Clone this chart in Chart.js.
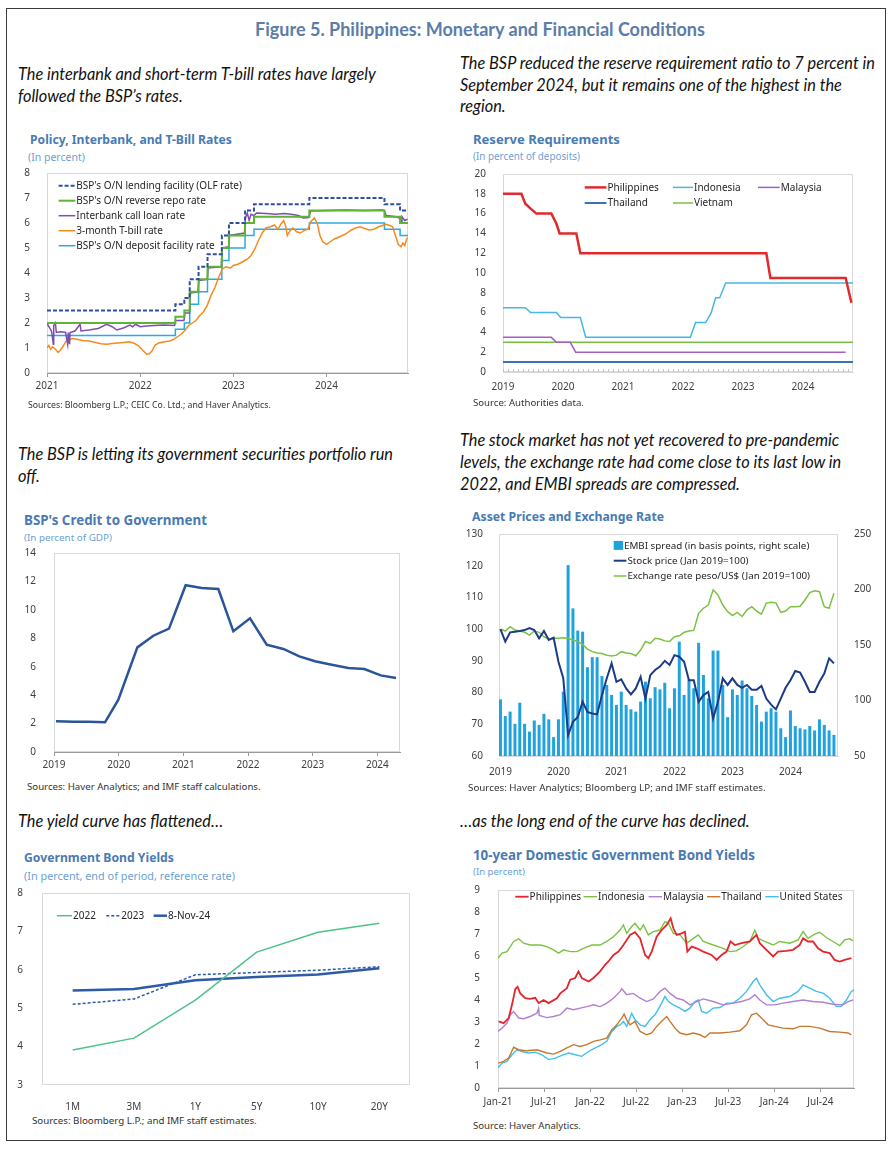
<!DOCTYPE html>
<html>
<head>
<meta charset="utf-8">
<script src="https://cdn.jsdelivr.net/npm/chart.js@4.4.1/dist/chart.umd.min.js"></script>
<style>
  body { margin: 0; width: 896px; height: 1152px; background: #fff; position: relative; overflow: hidden; font-family: "Noto Sans", sans-serif; }
  #box { position: absolute; left: 6px; top: 8px; width: 878px; height: 1131px; border: 1px solid #3a3a3a; }
  canvas { position: absolute; }
  .t { position: absolute; white-space: nowrap; transform: translateY(-50%); line-height: 1; z-index: 2; }
  .fig { font-family: Lato, sans-serif; font-weight: bold; color: #5b7da8; font-size: 18px; transform: translate(-50%, -50%); }
  .cap { font-family: Lato, sans-serif; font-style: italic; color: #111; font-size: 15px; }
  .ct { font-weight: bold; color: #4a7ab2; font-size: 13px; }
  .cs { color: #6d9fd5; font-size: 11px; }
  .src { color: #333; font-size: 9px; }
</style>
</head>
<body>
<div id="box"></div>

<div class="t fig" style="left:480px;top:29px" data-w="450">Figure 5. Philippines: Monetary and Financial Conditions</div>

<div class="t cap" style="left:18px;top:74px">The interbank and short-term T-bill rates have largely</div>
<div class="t cap" style="left:18px;top:95.5px">followed the BSP’s rates.</div>
<div class="t cap" id="capRef" style="left:460px;top:63px" data-w="415">The BSP reduced the reserve requirement ratio to 7 percent in</div>
<div class="t cap" style="left:460px;top:84.5px">September 2024, but it remains one of the highest in the</div>
<div class="t cap" style="left:460px;top:106px">region.</div>
<div class="t cap" style="left:18px;top:454px">The BSP is letting its government securities portfolio run</div>
<div class="t cap" style="left:18px;top:476px">off.</div>
<div class="t cap" style="left:460px;top:440px">The stock market has not yet recovered to pre-pandemic</div>
<div class="t cap" style="left:460px;top:462px">levels, the exchange rate had come close to its last low in</div>
<div class="t cap" style="left:460px;top:484px">2022, and EMBI spreads are compressed.</div>
<div class="t cap" style="left:18px;top:821px">The yield curve has flattened…</div>
<div class="t cap" style="left:460px;top:821px">…as the long end of the curve has declined.</div>

<div class="t ct" style="left:30px;top:140px" data-w="202">Policy, Interbank, and T-Bill Rates</div>
<div class="t cs" style="left:28px;top:157px" data-w="57">(In percent)</div>
<div class="t src" style="left:28px;top:405px" data-w="243">Sources: Bloomberg L.P.; CEIC Co. Ltd.; and Haver Analytics.</div>

<div class="t ct" style="left:473px;top:140px" data-w="147">Reserve Requirements</div>
<div class="t cs" style="left:473px;top:156.5px" data-w="107">(In percent of deposits)</div>
<div class="t src" style="left:473px;top:403px" data-w="111">Source: Authorities data.</div>

<div class="t ct" style="left:24px;top:521px" data-w="183">BSP's Credit to Government</div>
<div class="t cs" style="left:24px;top:538px" data-w="88">(In percent of GDP)</div>
<div class="t src" style="left:27px;top:787px" data-w="234">Sources: Haver Analytics; and IMF staff calculations.</div>

<div class="t ct" style="left:472px;top:517px" data-w="192">Asset Prices and Exchange Rate</div>
<div class="t src" style="left:468px;top:788px" data-w="298">Sources: Haver Analytics; Bloomberg LP; and IMF staff estimates.</div>

<div class="t ct" style="left:24px;top:858px" data-w="150">Government Bond Yields</div>
<div class="t cs" style="left:24px;top:875.5px" data-w="211">(In percent, end of period, reference rate)</div>
<div class="t src" style="left:32px;top:1121px" data-w="225">Sources: Bloomberg L.P.; and IMF staff estimates.</div>

<div class="t ct" style="left:473px;top:856px" data-w="282">10-year Domestic Government Bond Yields</div>
<div class="t cs" style="left:473px;top:871.5px" data-w="52">(In percent)</div>
<div class="t src" style="left:473px;top:1126px" data-w="108">Source: Haver Analytics.</div>

<canvas id="c1"></canvas>
<canvas id="c2"></canvas>
<canvas id="c3"></canvas>
<canvas id="c4"></canvas>
<canvas id="c5"></canvas>
<canvas id="c6"></canvas>

<script>
// ---- Policy, interbank and T-bill rates (decimal years) ----
const policyDates = [2021.0, 2022.378, 2022.474, 2022.532, 2022.627, 2022.723, 2022.877, 2022.953, 2023.126, 2023.222, 2023.816, 2024.622, 2024.790, 2024.875];
const olfRate = [2.5, 2.75, 3.0, 3.75, 4.25, 4.75, 5.5, 6.0, 6.5, 6.75, 7.0, 6.75, 6.5, 6.5];
const rrpRate = [2.0, 2.25, 2.5, 3.25, 3.75, 4.25, 5.0, 5.5, 6.0, 6.25, 6.5, 6.25, 6.0, 6.0];
const odfRate = [1.5, 1.75, 2.0, 2.75, 3.25, 3.75, 4.5, 5.0, 5.5, 5.75, 6.0, 5.75, 5.5, 5.5];

const ibDates = [2021.0, 2021.03, 2021.05, 2021.068, 2021.072, 2021.09, 2021.1, 2021.15, 2021.2, 2021.222, 2021.228, 2021.242, 2021.248, 2021.3, 2021.355, 2021.365, 2021.45, 2021.55, 2021.64, 2021.7, 2021.75, 2021.82, 2021.89, 2021.92, 2021.95,
  2022.0, 2022.07, 2022.15, 2022.25, 2022.37, 2022.38, 2022.47, 2022.48, 2022.53, 2022.54, 2022.62, 2022.63, 2022.72, 2022.73, 2022.87, 2022.88, 2022.95, 2022.96,
  2023.12, 2023.13, 2023.15, 2023.17, 2023.19, 2023.22, 2023.25, 2023.35, 2023.45, 2023.55, 2023.62, 2023.7, 2023.75, 2023.81, 2023.83,
  2024.0, 2024.2, 2024.4, 2024.6, 2024.62, 2024.64, 2024.75, 2024.78, 2024.8, 2024.81, 2024.84, 2024.87];
const ibRate = [1.98, 1.8, 1.65, 1.15, 1.9, 2.0, 1.62, 1.65, 1.62, 1.15, 1.62, 1.15, 1.62, 1.68, 1.95, 1.68, 1.72, 1.78, 1.95, 1.85, 1.72, 1.8, 1.92, 1.85, 1.95,
  1.85, 1.88, 1.9, 1.92, 1.9, 2.1, 2.1, 2.4, 2.4, 3.2, 3.25, 3.7, 3.75, 4.2, 4.25, 5.0, 5.05, 5.5,
  5.6, 6.2, 6.4, 6.1, 6.35, 6.3, 6.4, 6.38, 6.35, 6.38, 6.35, 6.3, 6.2, 6.22, 6.48,
  6.5, 6.52, 6.5, 6.52, 6.5, 6.3, 6.25, 6.2, 6.05, 6.25, 6.1, 6.15];

const tbDates = [2021.0, 2021.02, 2021.04, 2021.06, 2021.09, 2021.12, 2021.14, 2021.17, 2021.2, 2021.23, 2021.27, 2021.32, 2021.38, 2021.45, 2021.52, 2021.58, 2021.64, 2021.7, 2021.76, 2021.82, 2021.88, 2021.93, 2021.98,
  2022.03, 2022.07, 2022.1, 2022.13, 2022.16, 2022.2, 2022.26, 2022.32, 2022.36, 2022.4, 2022.44, 2022.48, 2022.52, 2022.56, 2022.6, 2022.64, 2022.68, 2022.72, 2022.76, 2022.8, 2022.84, 2022.88, 2022.92, 2022.97,
  2023.0, 2023.05, 2023.1, 2023.15, 2023.19, 2023.23, 2023.27, 2023.31, 2023.35, 2023.4, 2023.44, 2023.48, 2023.51, 2023.54, 2023.56, 2023.58, 2023.61, 2023.64, 2023.68, 2023.72, 2023.76, 2023.8, 2023.83, 2023.87, 2023.9, 2023.93, 2023.96,
  2024.0, 2024.04, 2024.08, 2024.14, 2024.2, 2024.26, 2024.31, 2024.36, 2024.41, 2024.46, 2024.51, 2024.56, 2024.6, 2024.64, 2024.68, 2024.71, 2024.74, 2024.77, 2024.8, 2024.82, 2024.84, 2024.86, 2024.87];
const tbRate = [1.0, 1.1, 0.95, 1.05, 0.95, 0.82, 0.9, 1.05, 1.25, 1.33, 1.38, 1.35, 1.3, 1.28, 1.22, 1.17, 1.15, 1.18, 1.2, 1.22, 1.25, 1.2, 1.1,
  0.9, 0.75, 0.77, 0.9, 1.12, 1.2, 1.25, 1.28, 1.35, 1.45, 1.55, 1.7, 1.9, 2.0, 2.1, 2.3, 2.45, 2.7, 3.1, 3.4, 3.8, 4.15, 4.25, 4.2,
  4.3, 4.35, 4.45, 4.55, 4.7, 4.95, 5.3, 5.6, 5.8, 5.85, 5.92, 5.75, 5.95, 6.1, 5.9, 5.5, 5.7, 5.8, 5.65, 5.6, 5.7, 5.75, 6.05, 6.2, 6.0, 5.5, 5.25,
  5.15, 5.25, 5.35, 5.45, 5.55, 5.7, 5.8, 5.85, 5.78, 5.72, 5.75, 5.85, 5.9, 5.95, 5.9, 5.85, 5.5, 5.15, 5.05, 5.2, 5.1, 5.35, 5.42];

const yearTicks1 = [2021, 2022, 2023, 2024];
const yearLabels1 = ['2021', '2022', '2023', '2024'];

// ---- Reserve requirements ----
const phRrX = [2019.0, 2019.306, 2019.372, 2019.46, 2019.556, 2019.806, 2019.889, 2019.944, 2020.222, 2020.289, 2023.389, 2023.456, 2024.711, 2024.806];
const phRrY = [18, 18, 17, 16.5, 16, 16, 15, 14, 14, 12, 12, 9.5, 9.5, 7];
const idRrX = [2019.0, 2019.372, 2019.46, 2019.889, 2019.961, 2020.289, 2020.378, 2022.122, 2022.21, 2022.378, 2022.47, 2022.544, 2022.611, 2022.711, 2024.833];
const idRrY = [6.5, 6.5, 6.0, 6.0, 5.5, 5.5, 3.5, 3.5, 5.0, 5.0, 6.0, 7.5, 7.5, 9.0, 9.0];
const myRrX = [2019.0, 2019.806, 2019.889, 2020.122, 2020.211, 2024.711];
const myRrY = [3.5, 3.5, 3.0, 3.0, 2.0, 2.0];
const thRrX = [2019.0, 2024.833];
const thRrY = [1, 1];
const vnRrX = [2019.0, 2024.833];
const vnRrY = [3, 3];
const yearTicks2 = [2019, 2020, 2021, 2022, 2023, 2024];
const yearLabels2 = ['2019', '2020', '2021', '2022', '2023', '2024'];

// ---- BSP credit to government (quarterly) ----
const creditDates = [2019.031, 2019.299, 2019.531, 2019.789, 2019.995, 2020.289, 2020.536, 2020.778, 2021.036, 2021.284, 2021.541, 2021.773, 2022.031, 2022.289, 2022.546, 2022.794, 2023.036, 2023.294, 2023.552, 2023.799, 2024.052, 2024.289];
const creditGdp = [2.16, 2.13, 2.13, 2.09, 3.68, 7.36, 8.18, 8.68, 11.73, 11.54, 11.47, 8.49, 9.4, 7.55, 7.25, 6.73, 6.38, 6.14, 5.91, 5.84, 5.39, 5.21];

// ---- Asset prices (monthly, Jan 2019 - Oct 2024) ----
const assetStartYear = 2019;
const embiSpread = [101, 86, 90, 79, 98, 79, 72, 82, 78, 88, 83, 67,
  83, 108, 222, 183, 163, 162, 130, 139, 139, 122, 114, 105,
  96, 108, 96, 92, 90, 99, 117, 102, 112, 110, 116, 93,
  111, 153, 105, 119, 111, 152, 123, 102, 145, 145, 114, 85,
  110, 105, 118, 111, 104, 96, 81, 90, 93, 90, 75, 67,
  91, 77, 75, 74, 77, 73, 83, 78, 73, 69];
const stockPrice = [100, 96.1, 99.0, 99.2, 99.4, 99.7, 100.3, 99.7, 97.1, 99.4, 96.6, 97.3,
  89.7, 84.5, 66.5, 70.8, 72.3, 77.1, 73.9, 73.4, 73.1, 79.2, 84.5, 89.2,
  83.4, 84.2, 81.3, 79.4, 81.3, 85.0, 78.1, 85.5, 87.1, 88.2, 90.0, 88.7,
  91.8, 91.3, 89.7, 83.9, 83.9, 77.1, 79.2, 80.2, 71.8, 77.1, 84.5, 82.4,
  84.5, 82.4, 81.5, 82.4, 80.9, 80.9, 82.1, 78.1, 76.2, 74.7, 78.1, 81.5,
  83.9, 86.8, 86.3, 83.4, 80.2, 80.2, 83.4, 86.0, 90.8, 89.2];
const fxRate = [100, 99.4, 100.8, 99.7, 99.4, 99.0, 98.1, 99.4, 99.0, 97.6, 96.9, 97.1,
  97.1, 97.3, 97.1, 96.6, 96.1, 95.2, 93.7, 92.9, 92.5, 92.3, 91.8, 91.5,
  91.8, 92.9, 92.5, 92.3, 91.6, 93.4, 96.1, 95.5, 97.1, 96.9, 96.3, 96.1,
  97.6, 97.9, 99.0, 99.4, 99.6, 105.0, 106.6, 107.6, 112.4, 110.8, 107.6, 105.5,
  104.3, 105.3, 104.0, 106.1, 107.1, 105.7, 104.7, 108.2, 108.5, 108.3, 105.3, 105.7,
  107.1, 107.1, 107.2, 109.2, 111.5, 112.1, 111.8, 107.1, 106.6, 111.3];

// ---- Government bond yield curve ----
const tenors = ['1M', '3M', '1Y', '5Y', '10Y', '20Y'];
const curve2022 = [3.91, 4.22, 5.21, 6.46, 6.98, 7.21];
const curve2023 = [5.10, 5.24, 5.87, 5.93, 5.99, 6.08];
const curveNov24 = [5.46, 5.50, 5.73, 5.81, 5.88, 6.04];

// ---- 10-year yields (decimal years) ----
const phYX = [2021.007, 2021.061, 2021.116, 2021.152, 2021.188, 2021.213, 2021.242, 2021.296, 2021.350, 2021.405, 2021.441, 2021.495, 2021.549, 2021.639, 2021.676, 2021.748, 2021.784, 2021.838, 2021.874, 2021.910, 2021.983,
  2022.037, 2022.109, 2022.163, 2022.199, 2022.254, 2022.308, 2022.362, 2022.398, 2022.434, 2022.488, 2022.543, 2022.597, 2022.633, 2022.669, 2022.723, 2022.777, 2022.832, 2022.875, 2022.904, 2022.940, 2022.994,
  2023.030, 2023.056, 2023.103, 2023.157, 2023.229, 2023.319, 2023.374, 2023.428, 2023.482, 2023.525, 2023.572, 2023.645, 2023.735, 2023.807, 2023.843, 2023.915, 2023.988,
  2024.042, 2024.132, 2024.204, 2024.277, 2024.313, 2024.367, 2024.421, 2024.475, 2024.530, 2024.602, 2024.656, 2024.710, 2024.764, 2024.837];
const phY = [3.03, 2.95, 3.18, 3.78, 4.5, 4.6, 4.3, 4.08, 4.05, 4.1, 3.86, 4.0, 3.86, 4.08, 4.3, 4.54, 4.92, 5.0, 5.3, 5.0, 4.84,
  5.0, 5.3, 5.6, 5.75, 6.05, 6.2, 6.5, 6.73, 6.96, 7.08, 6.8, 6.05, 5.9, 6.2, 6.88, 7.18, 7.41, 7.71, 7.26, 6.96, 7.03,
  7.1, 6.2, 6.43, 6.35, 6.2, 6.05, 5.82, 6.05, 6.2, 6.66, 6.5, 6.58, 6.66, 6.96, 6.58, 6.28, 5.98,
  6.2, 6.23, 6.28, 6.5, 6.8, 6.66, 6.66, 6.35, 6.2, 6.13, 5.82, 5.75, 5.82, 5.9];
const idYX = [2021.000, 2021.043, 2021.098, 2021.170, 2021.224, 2021.278, 2021.350, 2021.459, 2021.531, 2021.603, 2021.658, 2021.712, 2021.784, 2021.856, 2021.928,
  2022.019, 2022.109, 2022.181, 2022.254, 2022.326, 2022.362, 2022.398, 2022.452, 2022.488, 2022.543, 2022.579, 2022.633, 2022.687, 2022.759, 2022.813, 2022.850, 2022.904, 2022.976,
  2023.048, 2023.121, 2023.175, 2023.229, 2023.337, 2023.446, 2023.518, 2023.590, 2023.663, 2023.735, 2023.789, 2023.825, 2023.897, 2023.988,
  2024.060, 2024.168, 2024.259, 2024.313, 2024.367, 2024.439, 2024.493, 2024.566, 2024.638, 2024.710, 2024.764, 2024.819, 2024.855];
const idY = [5.9, 6.13, 6.2, 6.66, 6.78, 6.58, 6.5, 6.5, 6.43, 6.28, 6.13, 6.28, 6.2, 6.2, 6.35,
  6.5, 6.5, 6.66, 6.88, 7.18, 7.41, 7.03, 7.34, 7.49, 7.18, 7.41, 6.96, 7.11, 7.18, 7.56, 7.49, 7.03, 6.96,
  6.58, 6.8, 6.96, 6.66, 6.5, 6.35, 6.2, 6.23, 6.43, 6.66, 7.18, 6.8, 6.66, 6.5,
  6.66, 6.58, 6.73, 7.11, 6.8, 6.99, 7.08, 6.84, 6.66, 6.47, 6.73, 6.78, 6.69];
const myYX = [2021.000, 2021.043, 2021.098, 2021.134, 2021.170, 2021.224, 2021.278, 2021.350, 2021.423, 2021.441, 2021.448, 2021.531, 2021.603, 2021.676, 2021.748, 2021.820, 2021.892, 2021.965,
  2022.037, 2022.109, 2022.181, 2022.254, 2022.326, 2022.344, 2022.398, 2022.470, 2022.543, 2022.615, 2022.687, 2022.759, 2022.813, 2022.868, 2022.940,
  2023.012, 2023.084, 2023.157, 2023.229, 2023.337, 2023.446, 2023.554, 2023.645, 2023.735, 2023.789, 2023.843, 2023.915,
  2024.006, 2024.096, 2024.204, 2024.313, 2024.421, 2024.530, 2024.638, 2024.746, 2024.801, 2024.855];
const myY = [2.57, 2.72, 2.95, 3.33, 3.48, 3.18, 3.15, 3.25, 3.4, 3.63, 3.3, 3.2, 3.25, 3.33, 3.63, 3.56, 3.63, 3.7,
  3.78, 3.7, 3.86, 4.08, 4.39, 4.51, 4.24, 4.3, 4.08, 3.93, 4.05, 4.39, 4.54, 4.3, 4.08,
  4.0, 3.78, 3.93, 4.05, 3.93, 3.78, 3.86, 3.93, 4.05, 4.24, 4.0, 3.78,
  3.78, 3.86, 3.93, 4.0, 3.93, 3.9, 3.81, 3.78, 3.93, 4.0];
const thYX = [2021.000, 2021.061, 2021.116, 2021.170, 2021.224, 2021.314, 2021.423, 2021.531, 2021.603, 2021.676, 2021.748, 2021.820, 2021.892, 2021.965,
  2022.037, 2022.109, 2022.181, 2022.236, 2022.290, 2022.344, 2022.369, 2022.398, 2022.434, 2022.488, 2022.543, 2022.615, 2022.669, 2022.723, 2022.777, 2022.832, 2022.868, 2022.922, 2022.976,
  2023.048, 2023.121, 2023.193, 2023.247, 2023.301, 2023.410, 2023.518, 2023.626, 2023.699, 2023.753, 2023.807, 2023.861, 2023.934,
  2024.006, 2024.096, 2024.204, 2024.277, 2024.385, 2024.493, 2024.602, 2024.710, 2024.801, 2024.837];
const thY = [1.13, 1.21, 1.36, 1.85, 1.74, 1.69, 1.74, 1.59, 1.54, 1.66, 1.82, 1.97, 1.89, 1.97,
  2.12, 2.19, 2.27, 2.65, 2.87, 3.18, 3.36, 3.1, 2.87, 3.03, 2.57, 2.42, 2.5, 2.8, 3.03, 3.25, 3.03, 2.72, 2.5,
  2.42, 2.5, 2.42, 2.3, 2.5, 2.5, 2.54, 2.6, 2.87, 3.33, 3.4, 3.18, 2.87,
  2.8, 2.72, 2.69, 2.8, 2.8, 2.72, 2.57, 2.54, 2.5, 2.42];
const usYX = [2021.000, 2021.043, 2021.098, 2021.152, 2021.206, 2021.260, 2021.332, 2021.405, 2021.477, 2021.549, 2021.621, 2021.694, 2021.766, 2021.838, 2021.910, 2021.983,
  2022.055, 2022.127, 2022.181, 2022.236, 2022.290, 2022.326, 2022.362, 2022.398, 2022.452, 2022.488, 2022.543, 2022.597, 2022.651, 2022.705, 2022.759, 2022.813, 2022.850, 2022.904, 2022.976,
  2023.030, 2023.084, 2023.139, 2023.175, 2023.211, 2023.265, 2023.337, 2023.410, 2023.482, 2023.554, 2023.626, 2023.699, 2023.771, 2023.807, 2023.843, 2023.915, 2023.988,
  2024.060, 2024.168, 2024.259, 2024.313, 2024.385, 2024.457, 2024.530, 2024.602, 2024.674, 2024.728, 2024.783, 2024.837, 2024.866];
const usY = [0.91, 1.13, 1.21, 1.51, 1.74, 1.66, 1.59, 1.63, 1.51, 1.29, 1.36, 1.48, 1.59, 1.51, 1.44, 1.66,
  1.82, 1.97, 2.12, 2.57, 2.8, 2.87, 3.03, 2.8, 3.4, 3.1, 2.87, 2.8, 3.1, 3.33, 3.71, 4.16, 3.93, 3.78, 3.63,
  3.48, 3.63, 3.93, 4.0, 3.48, 3.4, 3.63, 3.66, 3.86, 3.86, 4.08, 4.39, 4.84, 4.99, 4.69, 4.24, 3.93,
  4.08, 4.16, 4.39, 4.69, 4.54, 4.39, 4.31, 4.08, 3.71, 3.71, 4.0, 4.39, 4.46];
const halfYearTicks = [2021, 2021.5, 2022, 2022.5, 2023, 2023.5, 2024, 2024.5];
const halfYearLabels = ['Jan-21', 'Jul-21', 'Jan-22', 'Jul-22', 'Jan-23', 'Jul-23', 'Jan-24', 'Jul-24'];

// ---------------------------------------------------------------
Chart.defaults.font.family = '"Noto Sans", sans-serif';
Chart.defaults.font.size = 10;
Chart.defaults.color = '#404040';
Chart.defaults.animation = false;
Chart.defaults.responsive = false;
Chart.defaults.plugins.legend.display = false;
Chart.defaults.plugins.tooltip.enabled = false;
Chart.defaults.elements.point.radius = 0;
Chart.defaults.elements.line.tension = 0;

// light box round the plot area
const framePlugin = {
  id: 'frame',
  beforeDraw(chart, args, o) {
    if (!o.color) return;
    const a = chart.chartArea, ctx = chart.ctx;
    ctx.save();
    ctx.strokeStyle = o.color;
    ctx.lineWidth = 1;
    ctx.strokeRect(a.left + 0.5, a.top + 0.5, a.width - 1, a.height - 1);
    ctx.restore();
  }
};

// legend drawn inside the plot, read from the datasets
const boxLegend = {
  id: 'boxLegend',
  afterDatasetsDraw(chart, args, o) {
    if (!o.items) return;
    const a = chart.chartArea, ctx = chart.ctx;
    ctx.save();
    ctx.font = (o.size || 9.5) + 'px "Noto Sans"';
    ctx.textBaseline = 'middle';
    o.items.forEach(it => {
      const ds = chart.data.datasets[it.i];
      const x0 = a.left + it.x, y = a.top + it.y, x1 = x0 + it.len;
      if (it.box) {
        ctx.fillStyle = ds.backgroundColor;
        ctx.fillRect(x0, y - 4.5, it.len, 9);
      } else {
        ctx.strokeStyle = ds.borderColor;
        ctx.lineWidth = ds.borderWidth;
        ctx.setLineDash(ds.borderDash || []);
        ctx.beginPath();
        ctx.moveTo(x0, y);
        ctx.lineTo(x1, y);
        ctx.stroke();
        ctx.setLineDash([]);
      }
      ctx.fillStyle = '#262626';
      ctx.fillText(ds.label, x1 + 1, y + 0.5);
    });
    ctx.restore();
  }
};

// small monthly marks along the bottom axis
const minorTicks = {
  id: 'minorTicks',
  afterDraw(chart, args, o) {
    if (!o.step) return;
    const s = chart.scales.x, a = chart.chartArea, ctx = chart.ctx;
    ctx.save();
    ctx.strokeStyle = o.color;
    ctx.lineWidth = 1;
    for (let v = s.min; v <= s.max; v += o.step) {
      const px = Math.round(s.getPixelForValue(v)) + 0.5;
      ctx.beginPath();
      ctx.moveTo(px, a.bottom);
      ctx.lineTo(px, a.bottom - o.len);
      ctx.stroke();
    }
    ctx.restore();
  }
};

Chart.register(framePlugin, boxLegend, minorTicks);

const fix = (w, h) => s => {
  if (w != null) s.width = w;
  if (h != null) s.height = h;
  s.paddingLeft = s.paddingRight = s.paddingTop = s.paddingBottom = 0;
};

// put a canvas so that its plot area lands on rect [l, t, r, b]
function place(id, rect, m) {
  const cv = document.getElementById(id);
  const W = Math.round(rect[2] - rect[0] + m[0] + m[2]);
  const H = Math.round(rect[3] - rect[1] + m[1] + m[3]);
  cv.width = W; cv.height = H;
  cv.style.width = W + 'px'; cv.style.height = H + 'px';
  cv.style.left = (rect[0] - m[0]) + 'px';
  cv.style.top = (rect[1] - m[1]) + 'px';
  return cv;
}

function xTime(min, max, ticks, labels, h, pad, tickLine) {
  return {
    type: 'linear', min: min, max: max, offset: false,
    afterBuildTicks: s => { s.ticks = ticks.map(v => ({ value: v })); },
    afterFit: fix(null, h),
    ticks: { callback: (v, i) => labels[i], maxRotation: 0, autoSkip: false, padding: pad },
    grid: { display: tickLine, drawOnChartArea: false, drawTicks: true, tickLength: 4, color: '#9a9a9a', offset: false },
    border: { display: true, color: tickLine ? '#9a9a9a' : '#d9d9d9' }
  };
}
function yLin(min, max, step, w, pad, pos) {
  return {
    type: 'linear', position: pos || 'left', min: min, max: max,
    ticks: { stepSize: step, padding: pad },
    grid: { display: false },
    border: { display: false },
    afterFit: fix(w, null)
  };
}
const pts = (xs, ys) => xs.map((x, i) => ({ x: x, y: ys[i] }));

// 1. Policy, Interbank, and T-Bill Rates
{
  const m = [35, 8, 12, 26];
  const cv = place('c1', [47, 173, 408, 373], m);
  new Chart(cv, {
    type: 'line',
    data: { datasets: [
      { label: "BSP's O/N lending facility (OLF rate)", data: pts(policyDates, olfRate), stepped: 'before', borderColor: '#2d4f9e', borderWidth: 2, borderDash: [4, 2] },
      { label: "BSP's O/N reverse repo rate", data: pts(policyDates, rrpRate), stepped: 'before', borderColor: '#5db533', borderWidth: 2 },
      { label: 'Interbank call loan rate', data: pts(ibDates, ibRate), borderColor: '#7e4fae', borderWidth: 1.5 },
      { label: '3-month T-bill rate', data: pts(tbDates, tbRate), borderColor: '#f58a1f', borderWidth: 1.5 },
      { label: "BSP's O/N deposit facility rate", data: pts(policyDates, odfRate), stepped: 'before', borderColor: '#2aaae2', borderWidth: 1.5 }
    ] },
    options: {
      layout: { padding: { top: m[1], right: m[2], left: 0, bottom: 0 } },
      scales: { x: xTime(2021, 2024.875, yearTicks1, yearLabels1, m[3], 3, true), y: yLin(0, 8, 1, m[0], 9) },
      plugins: {
        frame: { color: '#d9d9d9' },
        boxLegend: { size: 10, items: [0, 1, 2, 3, 4].map(k => ({ i: k, x: 11.6, y: 12.7 + 15 * k, len: 16.7 })) }
      }
    }
  });
}

// 2. Reserve Requirements
{
  const m = [35, 8, 12, 26];
  const cv = place('c2', [503, 174, 853, 372], m);
  new Chart(cv, {
    type: 'line',
    data: { datasets: [
      { label: 'Philippines', data: pts(phRrX, phRrY), borderColor: '#e02a2d', borderWidth: 2.5 },
      { label: 'Indonesia', data: pts(idRrX, idRrY), borderColor: '#43b7e5', borderWidth: 1.5 },
      { label: 'Malaysia', data: pts(myRrX, myRrY), borderColor: '#a45ec6', borderWidth: 1.5 },
      { label: 'Thailand', data: pts(thRrX, thRrY), borderColor: '#3b72b6', borderWidth: 2 },
      { label: 'Vietnam', data: pts(vnRrX, vnRrY), borderColor: '#78c043', borderWidth: 1.5 }
    ] },
    options: {
      layout: { padding: { top: m[1], right: m[2], left: 0, bottom: 0 } },
      scales: { x: xTime(2019, 2024.833, yearTicks2, yearLabels2, m[3], 5, false), y: yLin(0, 20, 2, m[0], 9) },
      plugins: {
        frame: { color: '#d9d9d9' },
        minorTicks: { step: 1 / 12, len: 3, color: '#c4c4c4' },
        boxLegend: { size: 10, items: [
          { i: 0, x: 81.7, y: 13.4, len: 21.7 }, { i: 1, x: 170, y: 13.4, len: 20 }, { i: 2, x: 255, y: 13.4, len: 21.7 },
          { i: 3, x: 81.7, y: 29, len: 21.7 }, { i: 4, x: 170, y: 29, len: 20 }
        ] }
      }
    }
  });
}

// 3. BSP's Credit to Government
{
  const m = [35, 8, 12, 26];
  const cv = place('c3', [54, 553, 400, 752], m);
  new Chart(cv, {
    type: 'line',
    data: { datasets: [
      { label: "BSP's credit to government", data: pts(creditDates, creditGdp), borderColor: '#2a5599', borderWidth: 2.5 }
    ] },
    options: {
      layout: { padding: { top: m[1], right: m[2], left: 0, bottom: 0 } },
      scales: { x: xTime(2019, 2024.35, yearTicks2, yearLabels2, m[3], 3, true), y: yLin(0, 14, 2, m[0], 10) },
      plugins: { frame: { color: '#d9d9d9' } }
    }
  });
}

// 4. Asset Prices and Exchange Rate
{
  const m = [35, 8, 35, 26];
  const cv = place('c4', [499, 534, 838, 756], m);
  const months = embiSpread.map((v, i) => assetStartYear + i / 12);
  new Chart(cv, {
    type: 'bar',
    data: { datasets: [
      { label: 'EMBI spread (in basis points, right scale)', data: pts(months, embiSpread), yAxisID: 'y2', backgroundColor: '#1ea3de', barPercentage: 0.62, categoryPercentage: 1, order: 3 },
      { type: 'line', label: 'Stock price (Jan 2019=100)', data: pts(months, stockPrice), yAxisID: 'y', borderColor: '#1c3b86', borderWidth: 2, order: 1 },
      { type: 'line', label: 'Exchange rate peso/US$ (Jan 2019=100)', data: pts(months, fxRate), yAxisID: 'y', borderColor: '#7bc142', borderWidth: 1.5, order: 2 }
    ] },
    options: {
      layout: { padding: { top: m[1], right: 0, left: 0, bottom: 0 } },
      scales: {
        x: xTime(2018.975, 2024.82, yearTicks2, yearLabels2, m[3], 6, false),
        y: yLin(60, 130, 10, m[0], 8),
        y2: yLin(50, 250, 50, m[2], 8, 'right')
      },
      plugins: {
        frame: { color: '#d9d9d9' },
        boxLegend: { size: 9.8, items: [
          { i: 0, x: 114.7, y: 11.4, len: 9.3, box: true },
          { i: 1, x: 114.7, y: 26.7, len: 12.7 },
          { i: 2, x: 114.7, y: 42, len: 12.7 }
        ] }
      }
    }
  });
}

// 5. Government Bond Yields
{
  const m = [35, 8, 12, 26];
  const cv = place('c5', [42, 893, 410, 1085], m);
  new Chart(cv, {
    type: 'line',
    data: { labels: tenors, datasets: [
      { label: '2022', data: curve2022, borderColor: '#4cc28a', borderWidth: 1.5 },
      { label: '2023', data: curve2023, borderColor: '#2f5ba6', borderWidth: 1.5, borderDash: [3, 2] },
      { label: '8-Nov-24', data: curveNov24, borderColor: '#2f5ba6', borderWidth: 2.5 }
    ] },
    options: {
      layout: { padding: { top: m[1], right: m[2], left: 0, bottom: 0 } },
      scales: {
        x: { type: 'category', offset: true, afterFit: fix(null, m[3]), ticks: { padding: 8, maxRotation: 0 }, grid: { display: false }, border: { display: false } },
        y: yLin(3, 8, 1, m[0], 11)
      },
      plugins: {
        frame: { color: '#d9d9d9' },
        boxLegend: { size: 10, items: [
          { i: 0, x: 15, y: 22.7, len: 15 }, { i: 1, x: 64.3, y: 22.7, len: 14 }, { i: 2, x: 111.6, y: 22.7, len: 13.4 }
        ] }
      }
    }
  });
}

// 6. 10-year Domestic Government Bond Yields
{
  const m = [35, 8, 12, 26];
  const cv = place('c6', [498, 890, 854, 1088], m);
  new Chart(cv, {
    type: 'line',
    data: { datasets: [
      { label: 'Philippines', data: pts(phYX, phY), borderColor: '#e3262c', borderWidth: 1.8 },
      { label: 'Indonesia', data: pts(idYX, idY), borderColor: '#7cc242', borderWidth: 1.4 },
      { label: 'Malaysia', data: pts(myYX, myY), borderColor: '#b080d0', borderWidth: 1.4 },
      { label: 'Thailand', data: pts(thYX, thY), borderColor: '#c8782e', borderWidth: 1.4 },
      { label: 'United States', data: pts(usYX, usY), borderColor: '#3fc0ef', borderWidth: 1.4 }
    ] },
    options: {
      layout: { padding: { top: m[1], right: m[2], left: 0, bottom: 0 } },
      scales: { x: xTime(2021, 2024.866, halfYearTicks, halfYearLabels, m[3], 4, true), y: yLin(0, 9, 1, m[0], 10) },
      plugins: {
        frame: { color: '#d9d9d9' },
        boxLegend: { size: 10, items: [
          { i: 0, x: 17.3, y: 6.7, len: 13.3 }, { i: 1, x: 85.6, y: 6.7, len: 13.4 }, { i: 2, x: 150.6, y: 6.7, len: 13.4 },
          { i: 3, x: 209, y: 6.7, len: 13.3 }, { i: 4, x: 267.3, y: 6.7, len: 13.3 }
        ] }
      }
    }
  });
}

// fit headings and notes to the widths measured on the reference
document.querySelectorAll('[data-w]').forEach(el => {
  const w = el.getBoundingClientRect().width;
  const fs = parseFloat(getComputedStyle(el).fontSize);
  el.style.fontSize = (fs * parseFloat(el.dataset.w) / w).toFixed(2) + 'px';
});
const capSize = getComputedStyle(document.getElementById('capRef')).fontSize;
document.querySelectorAll('.cap').forEach(el => { el.style.fontSize = capSize; });
</script>
</body>
</html>
